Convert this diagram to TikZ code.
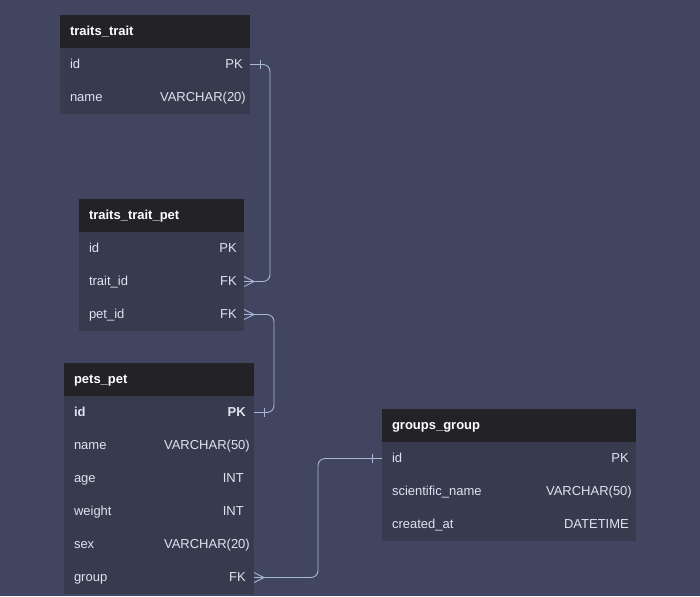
\documentclass[tikz,border=0pt]{standalone}
\usepackage{fontspec}
\setmainfont{Liberation Sans}
\usetikzlibrary{positioning}
\usetikzlibrary{decorations.markings}
\definecolor{bgcol}{RGB}{65,69,95}
\definecolor{headcol}{RGB}{35,34,38}
\definecolor{rowcol}{RGB}{56,58,78}
\definecolor{txtcol}{RGB}{222,227,240}
\definecolor{linkcol}{RGB}{166,184,214}
\def\tabfont{\fontsize{13}{15}\selectfont}
\tikzset{
    tablehead/.style={
        fill=headcol, text=white, font=\tabfont\bfseries,
        inner xsep=10pt, inner ysep=0pt, outer sep=0pt, minimum height=33pt,
        text width=#1, text height=10pt, text depth=2pt, align=left
    },
    tablerow/.style={
        fill=rowcol, text=txtcol, font=\tabfont,
        inner xsep=10pt, inner ysep=0pt, outer sep=0pt, minimum height=33pt,
        text width=#1, text height=10pt, text depth=2pt, align=left
    },
    fieldtype/.style={
        anchor=east, text=txtcol, font=\tabfont,
        inner sep=0pt, text height=10pt, text depth=2pt
    },
    linkline/.style={draw=linkcol, line width=0.9pt},
    relation/.style={
        linkline, rounded corners=7pt,
        decoration={markings,
            mark=at position 0 with {\draw[linkline] (10pt,0) -- (0,5pt) (10pt,0) -- (0,-5pt);},
            mark=at position -10pt with {\draw[linkline] (0,-4.5pt) -- (0,4.5pt);}},
        postaction={decorate}
    }
}
\begin{document}
\begin{tikzpicture}[x=1pt, y=-1pt]

	\fill[bgcol] (0,0) rectangle (700,596);
	\useasboundingbox (0,0) rectangle (700,596);

	% traits_trait
	\node[tablehead=170pt, anchor=north west] (tt) at (60,15) {traits\_trait};
	\node[tablerow=170pt, below=0pt of tt] (tt-id) {id};
	\node[fieldtype] (tt-id-t) at ([xshift=-7pt]tt-id.east) {PK};
	\node[tablerow=170pt, below=0pt of tt-id] (tt-name) {name};
	\node[fieldtype] (tt-name-t) at ([xshift=-4pt]tt-name.east) {VARCHAR(20)};

	% traits_trait_pet
	\node[tablehead=145pt, anchor=north west] (ttp) at (79,199) {traits\_trait\_pet};
	\node[tablerow=145pt, below=0pt of ttp] (ttp-id) {id};
	\node[fieldtype] (ttp-id-t) at ([xshift=-7pt]ttp-id.east) {PK};
	\node[tablerow=145pt, below=0pt of ttp-id] (ttp-trait) {trait\_id};
	\node[fieldtype] (ttp-trait-t) at ([xshift=-7pt]ttp-trait.east) {FK};
	\node[tablerow=145pt, below=0pt of ttp-trait] (ttp-pet) {pet\_id};
	\node[fieldtype] (ttp-pet-t) at ([xshift=-7pt]ttp-pet.east) {FK};

	% pets_pet
	\node[tablehead=170pt, anchor=north west] (pp) at (64,363) {pets\_pet};
	\node[tablerow=170pt, below=0pt of pp, font=\tabfont\bfseries] (pp-id) {id};
	\node[fieldtype, font=\tabfont\bfseries] (pp-id-t) at ([xshift=-8pt]pp-id.east) {PK};
	\node[tablerow=170pt, below=0pt of pp-id] (pp-name) {name};
	\node[fieldtype] (pp-name-t) at ([xshift=-4pt]pp-name.east) {VARCHAR(50)};
	\node[tablerow=170pt, below=0pt of pp-name] (pp-age) {age};
	\node[fieldtype] (pp-age-t) at ([xshift=-10pt]pp-age.east) {INT};
	\node[tablerow=170pt, below=0pt of pp-age] (pp-weight) {weight};
	\node[fieldtype] (pp-weight-t) at ([xshift=-10pt]pp-weight.east) {INT};
	\node[tablerow=170pt, below=0pt of pp-weight] (pp-sex) {sex};
	\node[fieldtype] (pp-sex-t) at ([xshift=-4pt]pp-sex.east) {VARCHAR(20)};
	\node[tablerow=170pt, below=0pt of pp-sex] (pp-group) {group};
	\node[fieldtype] (pp-group-t) at ([xshift=-8pt]pp-group.east) {FK};

	% groups_group
	\node[tablehead=234pt, anchor=north west] (gg) at (382,409) {groups\_group};
	\node[tablerow=234pt, below=0pt of gg] (gg-id) {id};
	\node[fieldtype] (gg-id-t) at ([xshift=-7pt]gg-id.east) {PK};
	\node[tablerow=234pt, below=0pt of gg-id] (gg-sci) {scientific\_name};
	\node[fieldtype] (gg-sci-t) at ([xshift=-4pt]gg-sci.east) {VARCHAR(50)};
	\node[tablerow=234pt, below=0pt of gg-sci] (gg-created) {created\_at};
	\node[fieldtype] (gg-created-t) at ([xshift=-7pt]gg-created.east) {DATETIME};

	% relations
	\draw[relation] (ttp-trait.east) -- ++(26,0) |- (tt-id.east);
	\draw[relation] (ttp-pet.east) -- ++(30,0) |- (pp-id.east);
	\draw[relation] (pp-group.east) -- ++(64,0) |- (gg-id.west);

\end{tikzpicture}
\end{document}
